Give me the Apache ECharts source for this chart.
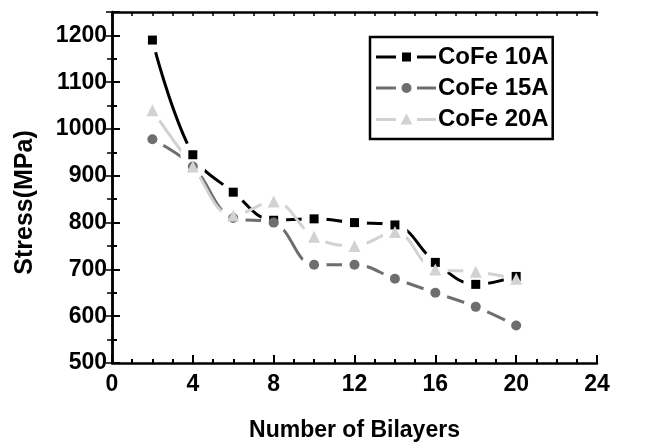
<!DOCTYPE html>
<html>
<head>
<meta charset="utf-8">
<script src="https://cdn.jsdelivr.net/npm/echarts@6/dist/echarts.min.js"></script>
<style>
  html, body { margin: 0; padding: 0; background: #fff; }
  #chart { width: 649px; height: 442px; }
</style>
</head>
<body>
<div id="chart"></div>
<script>
// bilayer counts on the x axis
const bilayers = [2, 4, 6, 8, 10, 12, 14, 16, 18, 20];

// stress values (MPa)
const cofe10 = [1190, 945, 865, 805, 808, 800, 795, 715, 668, 685];
const cofe15 = [978, 920, 810, 800, 710, 710, 680, 650, 620, 580];
const cofe20 = [1040, 920, 815, 845, 770, 750, 780, 700, 695, 680];

const seriesNames = ['CoFe 10A', 'CoFe 15A', 'CoFe 20A'];
const colors = ['#000000', '#6e6e6e', '#d2d2d2'];

const font = "'Liberation Sans', Arial, sans-serif";

// legend icons: line - marker - line, with gaps like the original plot
const legendIcons = [
  'path://M0,7h20v3h-20z M26,4h9v9h-9z M41,7h19v3h-19z',
  'path://M0,7h20v3h-20z M25.5,8.5a5,5 0 1,0 10,0a5,5 0 1,0 -10,0z M41,7h19v3h-19z',
  'path://M0,7h20v3h-20z M30.5,2.5L36.5,13.5L24.5,13.5z M41,7h19v3h-19z',
];

const chart = echarts.init(document.getElementById('chart'));

const pairs = (ys) => bilayers.map((x, i) => [x, ys[i]]);

function lineSeries(name, ys, color) {
  return {
    name: name,
    type: 'line',
    data: pairs(ys),
    smooth: 0.4,
    showSymbol: false,
    symbol: 'none',
    z: 2,
    lineStyle: { color: color, width: 3 },
    itemStyle: { color: color },
    emphasis: { disabled: true },
  };
}

// white disc under each marker cuts the line open around it
function haloSeries(ys) {
  return {
    type: 'scatter',
    data: pairs(ys),
    symbol: 'circle',
    symbolSize: 25,
    z: 10,
    silent: true,
    itemStyle: { color: '#ffffff', opacity: 1 },
    emphasis: { disabled: true },
  };
}

function markerSeries(ys, color, symbol, size) {
  return {
    type: 'scatter',
    data: pairs(ys),
    symbol: symbol,
    symbolSize: size,
    z: 11,
    silent: true,
    itemStyle: { color: color, opacity: 1 },
    emphasis: { disabled: true },
  };
}

const axisText = { color: '#000', fontFamily: font, fontWeight: 'bold', fontSize: 23 };
const axisLine = { show: true, lineStyle: { color: '#000', width: 2.5 } };

const option = {
  animation: false,
  backgroundColor: '#fff',
  grid: { left: 112, right: 52, top: 12, bottom: 79, outerBoundsMode: 'none' },
  legend: {
    orient: 'vertical',
    left: 370,
    top: 37,
    padding: [8, 4, 8, 6],
    itemGap: 7,
    itemWidth: 60,
    itemHeight: 16,
    borderColor: '#000',
    borderWidth: 2.5,
    textStyle: { color: '#000', fontFamily: font, fontWeight: 'bold', fontSize: 24, padding: [0, 0, 0, -3] },
    data: seriesNames.map((n, i) => ({ name: n, icon: legendIcons[i] })),
  },
  xAxis: [
    {
      type: 'value',
      position: 'bottom',
      min: 0,
      max: 24,
      interval: 4,
      name: 'Number of Bilayers',
      nameLocation: 'middle',
      nameGap: 56,
      nameTextStyle: { color: '#000', fontFamily: font, fontWeight: 'bold', fontSize: 23 },
      axisLine: axisLine,
      axisTick: { inside: true, length: 8, lineStyle: { color: '#000', width: 2 } },
      minorTick: { show: true, splitNumber: 4, length: 4, lineStyle: { color: '#000', width: 2 } },
      axisLabel: Object.assign({ margin: 10 }, axisText),
      splitLine: { show: false },
    },
    {
      type: 'value',
      position: 'top',
      min: 0,
      max: 24,
      interval: 4,
      axisLine: axisLine,
      axisTick: { inside: true, length: 4, lineStyle: { color: '#000', width: 1.5 } },
      minorTick: { show: true, splitNumber: 4, length: 4, lineStyle: { color: '#000', width: 1.5 } },
      axisLabel: { show: false },
      splitLine: { show: false },
    },
  ],
  yAxis: [
    {
      type: 'value',
      position: 'left',
      min: 500,
      max: 1250,
      interval: 100,
      name: 'Stress(MPa)',
      nameLocation: 'middle',
      nameGap: 74,
      nameTextStyle: { color: '#000', fontFamily: font, fontWeight: 'bold', fontSize: 25, padding: [0, 30, 0, 0] },
      axisLine: axisLine,
      axisTick: { inside: true, length: 8, lineStyle: { color: '#000', width: 2 } },
      minorTick: { show: true, splitNumber: 2, length: 5, lineStyle: { color: '#000', width: 2 } },
      axisLabel: Object.assign({ margin: 5, showMaxLabel: false, formatter: (v) => String(v) }, axisText),
      splitLine: { show: false },
    },
    {
      type: 'value',
      position: 'right',
      min: 500,
      max: 1250,
      interval: 100,
      axisLine: axisLine,
      axisTick: { inside: true, length: 6, lineStyle: { color: '#000', width: 1.5 } },
      minorTick: { show: true, splitNumber: 2, length: 5, lineStyle: { color: '#000', width: 1.5 } },
      axisLabel: { show: false },
      splitLine: { show: false },
    },
  ],
  series: [
    lineSeries(seriesNames[0], cofe10, colors[0]),
    lineSeries(seriesNames[1], cofe15, colors[1]),
    lineSeries(seriesNames[2], cofe20, colors[2]),
    haloSeries(cofe10),
    haloSeries(cofe15),
    haloSeries(cofe20),
    markerSeries(cofe10, colors[0], 'rect', 9),
    markerSeries(cofe15, colors[1], 'circle', 10),
    markerSeries(cofe20, colors[2], 'triangle', 12),
  ],
};

chart.setOption(option);
</script>
</body>
</html>
